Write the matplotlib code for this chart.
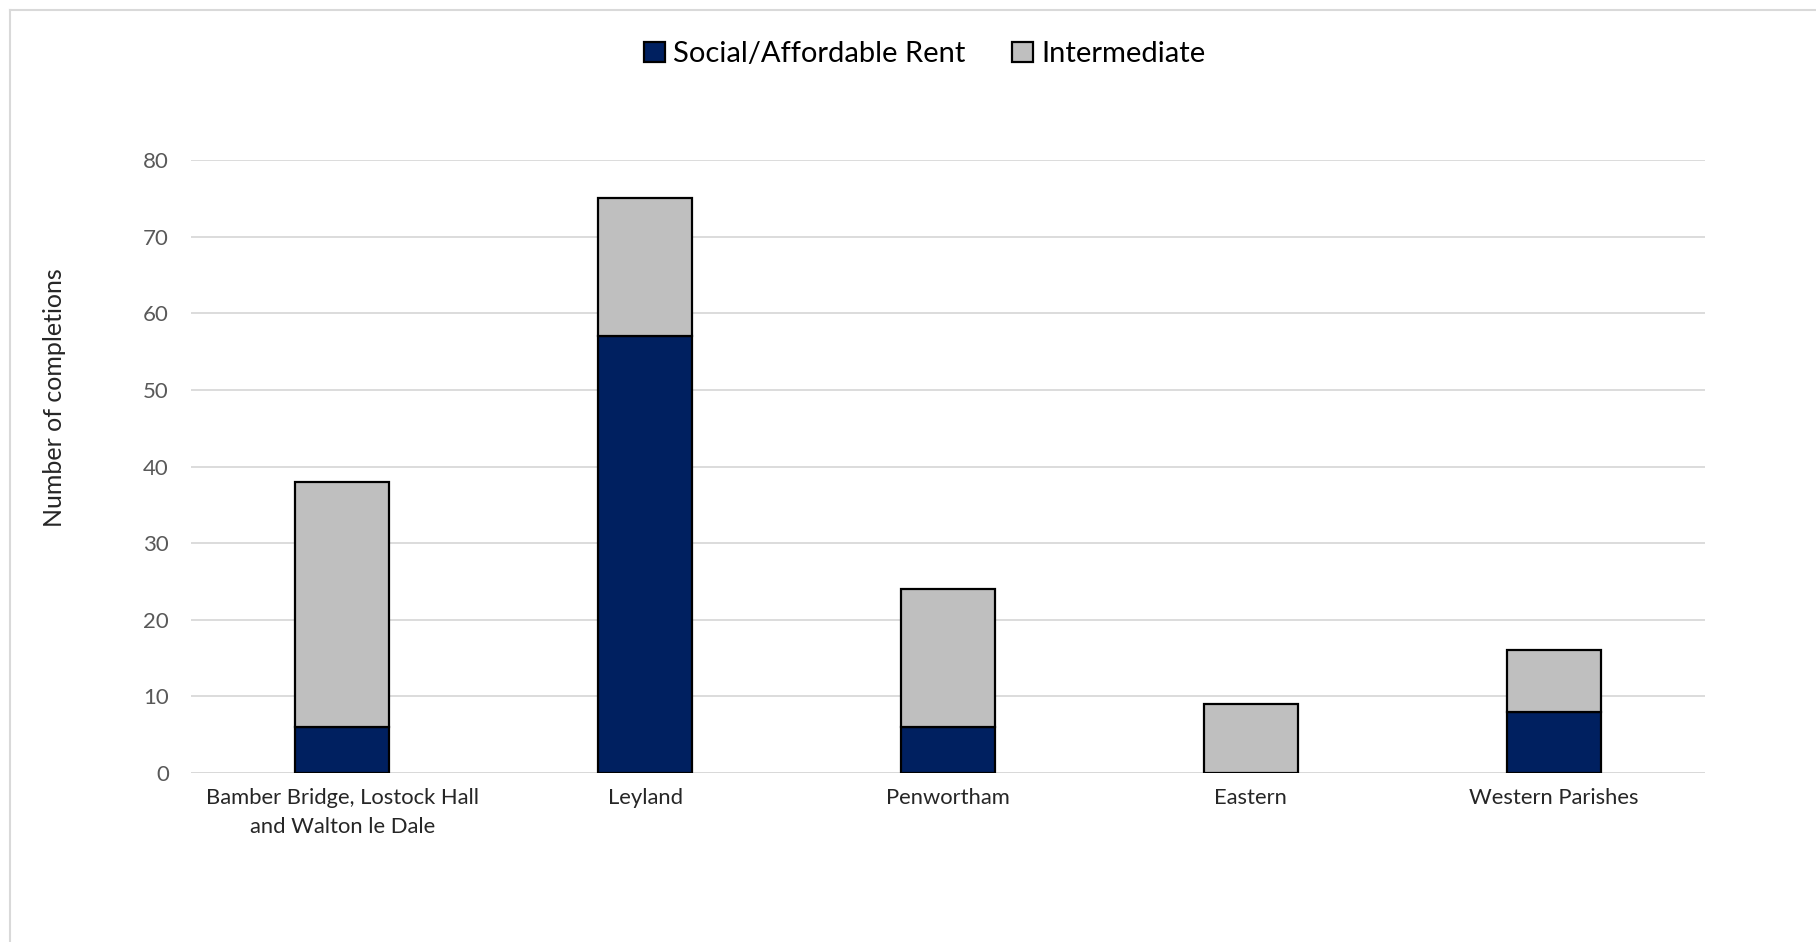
import matplotlib
matplotlib.use("Agg")
import matplotlib.pyplot as plt
from matplotlib.lines import Line2D
import numpy as np

plt.rcParams['font.family'] = ['Lato', 'DejaVu Sans']

categories = ["Bamber Bridge, Lostock Hall\nand Walton le Dale", "Leyland",
              "Penwortham", "Eastern", "Western Parishes"]
social_rent = [6, 57, 6, 0, 8]
intermediate = [32, 18, 18, 9, 8]
y_ticks = [0, 10, 20, 30, 40, 50, 60, 70, 80]

navy = "#002060"
grey = "#BFBFBF"

W, H = 1816, 942
fig = plt.figure(figsize=(W / 100, H / 100), dpi=100)
ax = fig.add_axes([191 / W, 1 - 773 / H, (1705 - 191) / W, (773 - 160) / H])

x = np.arange(len(categories))
w = 0.31
ax.bar(x, social_rent, w, color=navy, edgecolor="black", linewidth=1.6,
       label="Social/Affordable Rent", zorder=3)
ax.bar(x, intermediate, w, bottom=social_rent, color=grey, edgecolor="black",
       linewidth=1.6, label="Intermediate", zorder=3)

ax.set_xlim(-0.5, len(categories) - 0.5)
ax.set_ylim(0, 80)
ax.set_yticks(y_ticks)
ax.yaxis.grid(True, color="#D9D9D9", linewidth=1.3, zorder=0)
for s in ax.spines.values():
    s.set_visible(False)
ax.axhline(0, color="#D9D9D9", linewidth=1.3, zorder=2)
ax.tick_params(axis="y", length=0, pad=16, labelsize=16, labelcolor="#595959")
ax.tick_params(axis="x", length=0, pad=10.5, labelsize=15.8, labelcolor="#262626")
ax.set_xticks(x)
ax.set_xticklabels(categories, linespacing=1.6)

fig.text(54 / W, 1 - 398 / H, "Number of completions", rotation=90, fontsize=18,
         color="#262626", ha="center", va="center")

ax.legend(loc="center", bbox_to_anchor=(925 / W, 1 - 54 / H), bbox_transform=fig.transFigure,
          ncol=2, frameon=False, fontsize=21, handlelength=0.7, handleheight=0.7,
          handletextpad=0.3, columnspacing=1.6)

# light frame around the chart area (left and top edges)
fig.add_artist(Line2D([10 / W, 10 / W], [0, 1 - 10 / H], transform=fig.transFigure,
                      color="#D9D9D9", linewidth=1.5))
fig.add_artist(Line2D([10 / W, 1], [1 - 10 / H, 1 - 10 / H], transform=fig.transFigure,
                      color="#D9D9D9", linewidth=1.5))

fig.savefig("out.png", dpi=100, facecolor="white")
